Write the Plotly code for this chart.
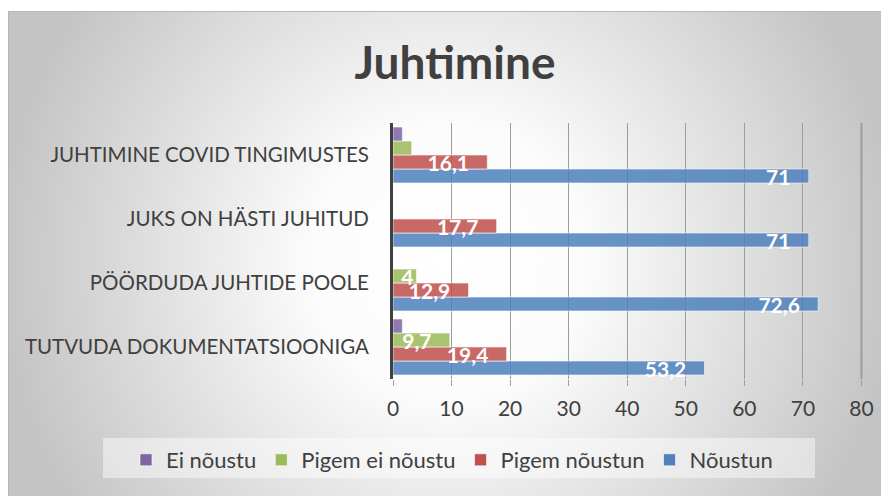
import base64
import plotly.graph_objects as go

# data (bottom -> top on the chart)
categories = [
    "TUTVUDA DOKUMENTATSIOONIGA",
    "PÖÖRDUDA JUHTIDE POOLE",
    "JUKS ON HÄSTI JUHITUD",
    "JUHTIMINE COVID TINGIMUSTES",
]
noustun = [53.2, 72.6, 71, 71]
pigem_noustun = [19.4, 12.9, 17.7, 16.1]
pigem_ei_noustu = [9.7, 4, None, 3.2]
ei_noustu = [1.6, None, None, 1.6]

# which data labels are visible in the original
show_label = {
    "Nõustun": [True, True, True, True],
    "Pigem nõustun": [True, True, True, True],
    "Pigem ei nõustu": [True, True, False, False],
    "Ei nõustu": [False, False, False, False],
}

series = [
    ("Nõustun", noustun, "#4F81BD"),
    ("Pigem nõustun", pigem_noustun, "#C0504D"),
    ("Pigem ei nõustu", pigem_ei_noustu, "#9BBB59"),
    ("Ei nõustu", ei_noustu, "#8064A2"),
]

X_MAX = 80
X_RANGE = [0, X_MAX + 0.6]
GRID = "#9d9d9d"
FONT = "Lato"
# page has an 8px body margin, so the figure is 8px smaller than the window
W, H = 881, 488
L, R, T, B = 385, 24, 115, 117
pw, ph = W - L - R, H - T - B


def fmt(v):
    # comma decimals; longer bars get a little padding off the bar end
    s = f"{v:g}".replace(".", ",")
    return s + "\u00a0\u00a0\u00a0" if v >= 8 else s


fig = go.Figure()
for name, vals, col in series:
    txt = [fmt(v) if (v is not None and s) else "" for v, s in zip(vals, show_label[name])]
    fig.add_trace(go.Bar(
        y=categories, x=vals, name=name, orientation="h",
        marker=dict(color=col, opacity=0.85, line=dict(color="rgba(255,255,255,0.6)", width=1)),
        text=txt, textposition="inside", insidetextanchor="end", constraintext="none",
        textangle=0,
        textfont=dict(family=FONT, size=21, color="white", weight="bold"),
        cliponaxis=False,
    ))

# radial gradient background as an svg image
svg = """<svg xmlns='http://www.w3.org/2000/svg' width='881' height='485'>
<defs><radialGradient id='g' gradientUnits='userSpaceOnUse' cx='440' cy='250' r='450'>
<stop offset='0' stop-color='#ffffff'/><stop offset='0.3' stop-color='#fcfcfc'/>
<stop offset='1' stop-color='#c4c4c4'/></radialGradient></defs>
<rect x='0.5' y='0.5' width='881' height='485' fill='url(#g)' stroke='#b8b8b8' stroke-width='1'/>
</svg>"""
src = "data:image/svg+xml;base64," + base64.b64encode(svg.encode()).decode()


def px_x(p):
    return (p - L) / pw


def px_y(p):
    return (H - B - p) / ph


fig.add_layout_image(dict(
    source=src, xref="paper", yref="paper",
    x=px_x(0), y=px_y(3), sizex=881 / pw, sizey=485 / ph,
    xanchor="left", yanchor="top", sizing="stretch", layer="below",
))

# legend box
fig.add_shape(type="rect", xref="paper", yref="paper",
              x0=px_x(95), x1=px_x(807), y0=px_y(430), y1=px_y(470),
              fillcolor="rgba(255,255,255,0.45)", line=dict(width=0), layer="below")

# last gridline (at the axis maximum), drawn on top so it is never hidden
gx = X_MAX / X_RANGE[1]
fig.add_shape(type="line", xref="paper", yref="paper", x0=gx, x1=gx, y0=0, y1=1,
              line=dict(color=GRID, width=2), layer="above")

fig.update_layout(
    width=W, height=H,
    margin=dict(l=L, r=R, t=T, b=B),
    paper_bgcolor="white",
    plot_bgcolor="rgba(0,0,0,0)",
    barmode="group",
    bargap=0.125,
    bargroupgap=0,
    font=dict(family=FONT, color="#595959"),
    title=dict(text="<b>Juhtimine</b>", x=447 / W, xanchor="center", y=1 - 55 / H, yanchor="middle",
               font=dict(family=FONT, size=46, color="#404040")),
    legend=dict(orientation="h", traceorder="reversed",
                x=px_x(118), xanchor="left", y=px_y(452), yanchor="middle",
                bgcolor="rgba(0,0,0,0)",
                font=dict(family=FONT, size=22, color="#404040")),
    xaxis=dict(range=X_RANGE, tick0=0, dtick=10, showgrid=True, gridcolor=GRID, gridwidth=1,
               zeroline=False, ticks="outside", ticklen=6, tickcolor=GRID,
               tickfont=dict(family=FONT, size=21, color="#404040"), ticklabelstandoff=5,
               automargin=False),
    yaxis=dict(type="category", categoryorder="array", categoryarray=categories,
               showline=True, linecolor="#404040", linewidth=3, ticks="",
               tickfont=dict(family=FONT, size=20.5, color="#404040"), ticklabelstandoff=17,
               automargin=False),
)

fig.write_html("out.html")
